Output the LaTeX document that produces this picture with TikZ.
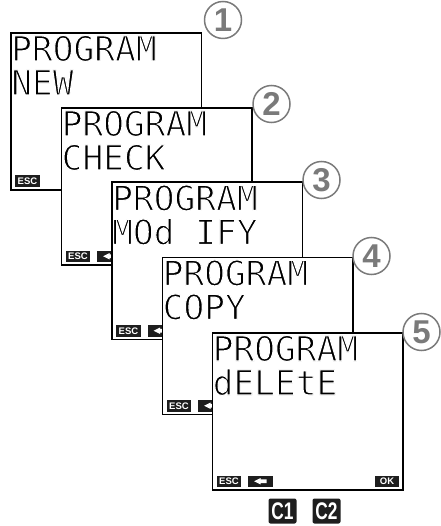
\documentclass[tikz,border=0pt]{standalone}
\usepackage{fontspec}
\setmainfont{Liberation Sans}
\newfontfamily\lcdfont{DejaVu Sans Mono}
\definecolor{numgray}{HTML}{7A7A7A}
\definecolor{btnblack}{HTML}{1E1E1E}
\newcommand{\thinlcd}[1]{\special{pdf:literal direct 2 Tr 1 1 1 RG 1.1 w}#1\special{pdf:literal direct 0 Tr}}
\begin{document}
\begin{tikzpicture}[x=1pt,y=-1pt,
  lcd/.style={draw=black,fill=white,line width=1.7pt,minimum width=190.5pt,minimum height=157pt,anchor=north west,inner sep=0pt},
  lcdtext/.style={anchor=base west,inner sep=0pt,font=\lcdfont\fontsize{34.5}{36}\selectfont},
  escbtn/.style={fill=btnblack,minimum width=24.5pt,minimum height=11.5pt,inner sep=0pt,anchor=south west,text=white,font=\bfseries\fontsize{9.5}{10}\selectfont},
  arrbtn/.style={fill=btnblack,minimum width=25pt,minimum height=11.5pt,inner sep=0pt,anchor=south west},
  okbtn/.style={fill=btnblack,minimum width=24pt,minimum height=11.5pt,inner sep=0pt,anchor=south east,text=white,font=\bfseries\fontsize{9.5}{10}\selectfont},
  num/.style={circle,draw=numgray,line width=1.5pt,minimum size=37pt,inner sep=0pt,text=numgray,font=\bfseries\fontsize{33}{34}\selectfont},
  cbtn/.style={fill=btnblack,rounded corners=2pt,minimum width=28pt,minimum height=25pt,inner sep=0pt,text=white,font=\bfseries\fontsize{24}{25}\selectfont}
]
\useasboundingbox (0,0) rectangle (440,526);
\newcommand{\arrowicon}[1]{%
  \fill[white] ([xshift=6pt]#1.west) -- ([xshift=12.5pt,yshift=3.2pt]#1.west) -- ([xshift=12.5pt,yshift=1.8pt]#1.west) -- ([xshift=18.5pt,yshift=1.8pt]#1.west) -- ([xshift=18.5pt,yshift=-1.8pt]#1.west) -- ([xshift=12.5pt,yshift=-1.8pt]#1.west) -- ([xshift=12.5pt,yshift=-3.2pt]#1.west) -- cycle;}

% screen 1
\node[lcd] (b1) at (10,32) {};
\node[lcdtext] (t1a) at ([shift={(1,29)}]b1.north west) {\thinlcd{PROGRAM}};
\node[lcdtext] (t1b) at ([shift={(1,63)}]b1.north west) {\thinlcd{NEW}};
\node[escbtn] (e1) at ([shift={(5,-3.5)}]b1.south west) {ESC};
\node[num] (n1) at (223,20) {1};

% screen 2
\node[lcd] (b2) at (60.5,107) {};
\node[lcdtext] (t2a) at ([shift={(1,29)}]b2.north west) {\thinlcd{PROGRAM}};
\node[lcdtext] (t2b) at ([shift={(1,63)}]b2.north west) {\thinlcd{CHECK}};
\node[escbtn] (e2) at ([shift={(5,-3.5)}]b2.south west) {ESC};
\node[arrbtn] (a2) at ([shift={(36.5,-3.5)}]b2.south west) {};
\arrowicon{a2}
\node[num] (n2) at (271.5,104) {2};

% screen 3
\node[lcd] (b3) at (111,181.5) {};
\node[lcdtext] (t3a) at ([shift={(1,29)}]b3.north west) {\thinlcd{PROGRAM}};
\node[lcdtext] (t3b) at ([shift={(1,63)}]b3.north west) {\thinlcd{MOd IFY}};
\node[escbtn] (e3) at ([shift={(5,-3.5)}]b3.south west) {ESC};
\node[arrbtn] (a3) at ([shift={(36.5,-3.5)}]b3.south west) {};
\arrowicon{a3}
\node[num] (n3) at (321.5,180) {3};

% screen 4
\node[lcd] (b4) at (161.5,256.5) {};
\node[lcdtext] (t4a) at ([shift={(1,29)}]b4.north west) {\thinlcd{PROGRAM}};
\node[lcdtext] (t4b) at ([shift={(1,63)}]b4.north west) {\thinlcd{COPY}};
\node[escbtn] (e4) at ([shift={(5,-3.5)}]b4.south west) {ESC};
\node[arrbtn] (a4) at ([shift={(36.5,-3.5)}]b4.south west) {};
\arrowicon{a4}
\node[num] (n4) at (371.5,256) {4};

% screen 5
\node[lcd] (b5) at (211.5,332) {};
\node[lcdtext] (t5a) at ([shift={(1,29)}]b5.north west) {\thinlcd{PROGRAM}};
\node[lcdtext] (t5b) at ([shift={(1,63)}]b5.north west) {\thinlcd{dELEtE}};
\node[escbtn] (e5) at ([shift={(5,-3.5)}]b5.south west) {ESC};
\node[arrbtn] (a5) at ([shift={(36.5,-3.5)}]b5.south west) {};
\arrowicon{a5}
\node[okbtn] (ok5) at ([shift={(-4.5,-3.5)}]b5.south east) {OK};
\node[num] (n5) at (421.5,332) {5};

% keys
\node[cbtn] (c1) at (282.5,511) {\scalebox{0.72}[1]{C1}};
\node[cbtn] (c2) at (326.5,511) {\scalebox{0.72}[1]{C2}};
\end{tikzpicture}
\end{document}
